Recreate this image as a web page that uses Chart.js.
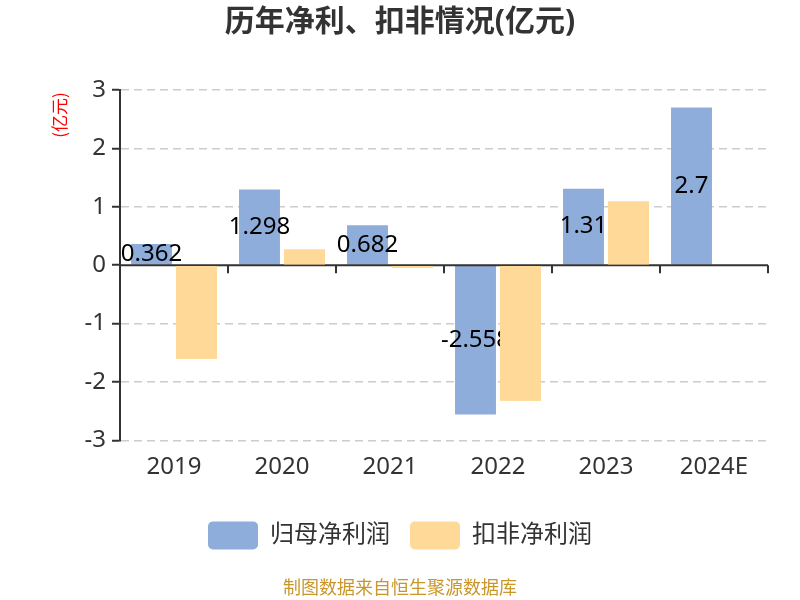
<!DOCTYPE html>
<html>
<head>
<meta charset="utf-8">
<script src="https://cdn.jsdelivr.net/npm/chart.js@4/dist/chart.umd.min.js"></script>
<style>
  body { margin: 0; background: #fff; }
  #wrap { width: 800px; height: 600px; }
</style>
</head>
<body>
<div id="wrap"><canvas id="profitChart" width="800" height="600"></canvas></div>
<script>
(function() {
  var years = ['2019', '2020', '2021', '2022', '2023', '2024E'];
  var parentProfit = [0.362, 1.298, 0.682, -2.558, 1.31, 2.7];
  var deductedProfit = [-1.6, 0.27, -0.05, -2.32, 1.09, null];
  var yTicks = [-3, -2, -1, 0, 1, 2, 3];

  var blue = '#8eaddb';
  var orange = '#ffd998';
  var textColor = '#333';

  Chart.defaults.font.family = '"Noto Sans", "Noto Sans CJK SC", sans-serif';

  // zero line, category ticks, bar labels and the unit label
  var extras = {
    id: 'extras',
    afterDatasetsDraw: function(chart) {
      var ctx = chart.ctx;
      var y = chart.scales.y;
      var zeroY = y.getPixelForValue(0);
      var area = chart.chartArea;

      ctx.save();
      ctx.strokeStyle = textColor;
      ctx.lineWidth = 2;
      ctx.beginPath();
      ctx.moveTo(area.left, zeroY);
      ctx.lineTo(area.right, zeroY);
      for (var i = 1; i <= years.length; i++) {
        var tx = Math.round(area.left + (area.right - area.left) * i / years.length);
        ctx.moveTo(tx, zeroY);
        ctx.lineTo(tx, zeroY + 8);
      }
      ctx.stroke();

      // labels on the first series
      var meta = chart.getDatasetMeta(0);
      ctx.fillStyle = '#000';
      ctx.font = '24px "Noto Sans", sans-serif';
      ctx.textAlign = 'center';
      ctx.textBaseline = 'middle';
      meta.data.forEach(function(bar, idx) {
        var p = bar.getProps(['x', 'y', 'base'], true);
        ctx.fillText(String(parentProfit[idx]), p.x, (p.y + p.base) / 2);
      });

      // second series goes over the labels
      chart.getDatasetMeta(1).data.forEach(function(bar) {
        bar.draw(ctx);
      });

      ctx.translate(60, 115);
      ctx.rotate(-Math.PI / 2);
      ctx.fillStyle = '#ff0000';
      ctx.font = '17px "Noto Sans CJK SC", sans-serif';
      ctx.fillText('(亿元)', 0, 0);
      ctx.restore();
    }
  };

  new Chart(document.getElementById('profitChart'), {
    type: 'bar',
    data: {
      labels: years,
      datasets: [
        {
          label: '归母净利润',
          data: parentProfit,
          backgroundColor: blue,
          categoryPercentage: 0.833,
          barPercentage: 0.91
        },
        {
          label: '扣非净利润',
          data: deductedProfit,
          backgroundColor: orange,
          categoryPercentage: 0.833,
          barPercentage: 0.91
        }
      ]
    },
    options: {
      responsive: false,
      animation: false,
      layout: { padding: { left: 32, right: 32, top: 0, bottom: 0 } },
      plugins: {
        title: {
          display: true,
          text: '历年净利、扣非情况(亿元)',
          color: textColor,
          font: { size: 30, weight: 'bold' },
          padding: { top: 4, bottom: 50 }
        },
        subtitle: {
          display: true,
          position: 'bottom',
          text: '制图数据来自恒生聚源数据库',
          color: '#c9962b',
          font: { size: 18 },
          padding: { top: 19, bottom: 0 }
        },
        legend: {
          position: 'bottom',
          labels: {
            boxWidth: 50,
            boxHeight: 28,
            useBorderRadius: true,
            borderRadius: 5,
            padding: 20,
            color: textColor,
            font: { size: 24 }
          }
        },
        tooltip: { enabled: false }
      },
      scales: {
        x: {
          grid: { display: false },
          border: { display: false },
          ticks: { color: textColor, font: { size: 24 }, padding: 4 },
          afterFit: function(scale) { scale.height = 61; }
        },
        y: {
          min: -3,
          max: 3,
          afterBuildTicks: function(scale) {
            scale.ticks = yTicks.map(function(v) { return { value: v }; });
          },
          afterFit: function(scale) { scale.width = 88; },
          ticks: { color: textColor, font: { size: 24 }, padding: 6 },
          grid: {
            color: function(c) { return c.tick && c.tick.value === 0 ? 'rgba(0,0,0,0)' : '#cccccc'; },
            lineWidth: 1.5,
            tickLength: 8,
            tickColor: textColor,
            tickWidth: 2
          },
          border: { display: true, color: textColor, width: 2, dash: [8, 5] }
        }
      }
    },
    plugins: [extras]
  });
})();
</script>
</body>
</html>
